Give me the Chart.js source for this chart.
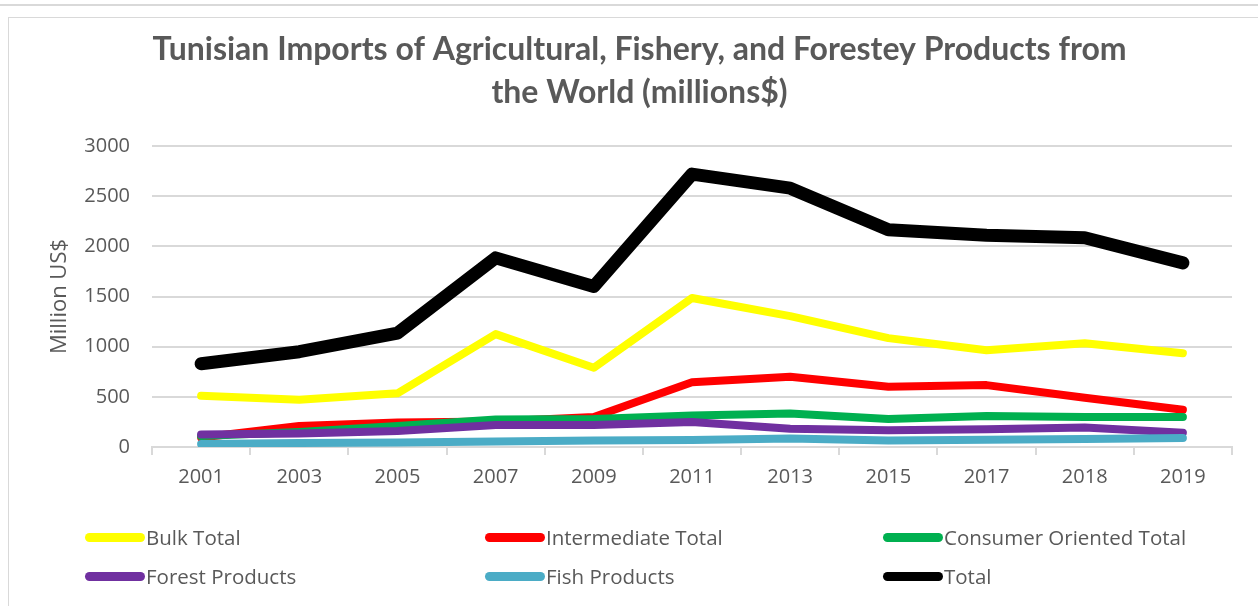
<!DOCTYPE html>
<html>
<head>
<meta charset="utf-8">
<script src="https://cdn.jsdelivr.net/npm/chart.js@4.4.1/dist/chart.umd.min.js"></script>
<style>
  html, body { margin: 0; padding: 0; background: #fff; }
  #wrap { position: relative; width: 1258px; height: 606px; overflow: hidden; }
  #topline { position: absolute; left: 0; top: 4px; width: 1258px; height: 0; border-top: 2px solid #d9d9d9; }
  #frame { position: absolute; left: 8px; top: 17px; width: 1300px; height: 700px; border: 1px solid #d9d9d9; }
  canvas { position: absolute; left: 0; top: 0; }
  #legend { position: absolute; left: 0; top: 0; width: 1258px; height: 606px; pointer-events: none; }
  .item { position: absolute; display: flex; align-items: center; font-family: 'Open Sans', sans-serif; font-size: 20.5px; color: #595959; }
  .swatch { width: 60px; height: 9px; border-radius: 5px; margin-right: 1px; }
</style>
</head>
<body>
<div id="wrap">
  <div id="topline"></div>
  <div id="frame"></div>
  <canvas id="chart" width="1258" height="606"></canvas>
  <div id="legend"></div>
</div>
<script>
// --- DATA ---
const years = ['2001', '2003', '2005', '2007', '2009', '2011', '2013', '2015', '2017', '2018', '2019'];
const bulkTotal = [510, 470, 535, 1125, 790, 1485, 1305, 1085, 965, 1035, 935];
const intermediateTotal = [95, 210, 245, 255, 300, 645, 700, 600, 617, 490, 372];
const consumerTotal = [110, 150, 210, 275, 280, 315, 333, 280, 310, 300, 300];
const forestProducts = [125, 135, 160, 220, 220, 250, 183, 167, 177, 195, 143];
const fishProducts = [30, 40, 45, 55, 65, 70, 85, 65, 72, 80, 90];
const total = [830, 950, 1135, 1885, 1600, 2720, 2580, 2165, 2110, 2085, 1835];
const yTicks = [0, 500, 1000, 1500, 2000, 2500, 3000];

const seriesNames = ['Bulk Total', 'Intermediate Total', 'Consumer Oriented Total', 'Forest Products', 'Fish Products', 'Total'];
const seriesColors = ['#ffff00', '#ff0000', '#00b050', '#7030a0', '#4bacc6', '#000000'];
const seriesValues = [bulkTotal, intermediateTotal, consumerTotal, forestProducts, fishProducts, total];

const GRAY = '#595959';

// --- CHART ---
const datasets = seriesNames.map((name, i) => ({
    label: name,
    data: seriesValues[i],
    borderColor: seriesColors[i],
    backgroundColor: seriesColors[i],
    borderWidth: name === 'Total' ? 13 : 8,
    borderCapStyle: 'round',
    borderJoinStyle: 'round',
    pointRadius: 0,
    tension: 0,
    order: name === 'Total' ? 0 : seriesNames.length - i
}));

new Chart(document.getElementById('chart'), {
    type: 'line',
    data: { labels: years, datasets: datasets },
    options: {
        responsive: false,
        animation: false,
        layout: { padding: { left: 47, right: 26, top: 20, bottom: 120 } },
        plugins: {
            legend: { display: false },
            tooltip: { enabled: false },
            title: {
                display: true,
                text: ['Tunisian Imports of Agricultural, Fishery, and Forestey Products from', 'the World (millions$)'],
                color: GRAY,
                font: { family: 'Lato', size: 32, weight: 'bold', lineHeight: 1.344 },
                padding: { top: 8.5, bottom: 31.5 }
            }
        },
        scales: {
            x: {
                offset: true,
                grid: { display: true, drawOnChartArea: false, offset: true, color: '#d9d9d9', lineWidth: 2, tickLength: 8 },
                border: { color: '#d9d9d9', width: 2 },
                ticks: { color: GRAY, font: { family: 'Open Sans', size: 20 }, padding: 10 },
                afterFit: (scale) => { scale.height = 39; }
            },
            y: {
                min: 0,
                max: 3000,
                afterBuildTicks: (scale) => { scale.ticks = yTicks.map(v => ({ value: v })); },
                grid: { color: '#d9d9d9', lineWidth: 2, drawTicks: false },
                border: { display: false },
                ticks: { color: GRAY, font: { family: 'Open Sans', size: 20 }, padding: 22, callback: (v) => String(v) },
                title: { display: true, text: 'Million US$', color: GRAY, font: { family: 'Open Sans', size: 22 }, padding: { top: 0, bottom: 8 } },
                afterFit: (scale) => { scale.width = 105; }
            }
        }
    }
});

// --- LEGEND (3 kolom x 2 baris) ---
const legend = document.getElementById('legend');
const colX = [85, 485, 883];
const rowY = [537, 576];
seriesNames.forEach((name, i) => {
    const item = document.createElement('div');
    item.className = 'item';
    item.style.left = colX[i % 3] + 'px';
    item.style.top = (rowY[Math.floor(i / 3)] - 14) + 'px';
    item.style.height = '28px';
    const sw = document.createElement('div');
    sw.className = 'swatch';
    sw.style.background = seriesColors[i];
    item.appendChild(sw);
    item.appendChild(document.createTextNode(name));
    legend.appendChild(item);
});
</script>
</body>
</html>
